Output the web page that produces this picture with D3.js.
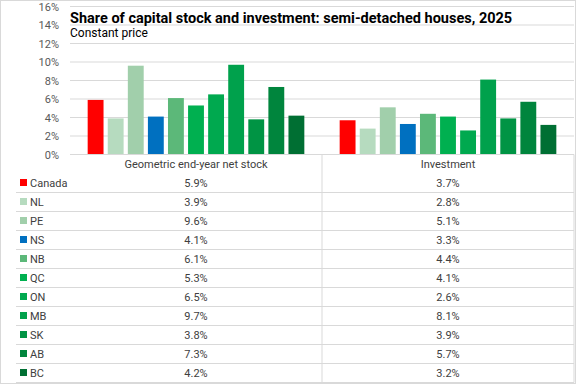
<!DOCTYPE html>
<html>
<head>
<meta charset="utf-8">
<script src="https://cdn.jsdelivr.net/npm/d3@7"></script>
<style>
  body { margin: 0; background: #fff; }
  svg { display: block; font-family: Roboto, "Liberation Sans", sans-serif; }
</style>
</head>
<body>
<svg id="chart" width="576" height="384"></svg>
<script>
'use strict';

const regions = ["Canada", "NL", "PE", "NS", "NB", "QC", "ON", "MB", "SK", "AB", "BC"];
const groups = ["Geometric end-year net stock", "Investment"];
const netStock = [5.9, 3.9, 9.6, 4.1, 6.1, 5.3, 6.5, 9.7, 3.8, 7.3, 4.2];
const investment = [3.7, 2.8, 5.1, 3.3, 4.4, 4.1, 2.6, 8.1, 3.9, 5.7, 3.2];
const yTicks = [0, 2, 4, 6, 8, 10, 12, 14, 16];
const colors = ["#ff0000", "#b6dbbf", "#a1cfab", "#0070c0", "#5cb879", "#00b050",
                "#00a94f", "#00a14c", "#009444", "#00853d", "#006f33"];

const svg = d3.select("#chart");
const W = 576, H = 384;
const plot = { left: 70, right: 574, top: 6.5, bottom: 154.5 };
const rowH = 19;
const tableTop = plot.bottom;

// chart border
svg.append("rect")
    .attr("x", 0.5).attr("y", 0.5)
    .attr("width", W - 1).attr("height", H - 1)
    .attr("fill", "#fff").attr("stroke", "#d9d9d9");

// scales
const x0 = d3.scaleBand().domain(groups).range([plot.left, plot.right]);
const x1 = d3.scaleBand().domain(regions).range([0, x0.bandwidth()])
    .paddingInner(0.21).paddingOuter(0.88);
const y = d3.scaleLinear().domain([0, 16]).range([plot.bottom, plot.top]);
const color = d3.scaleOrdinal().domain(regions).range(colors);

// gridlines
svg.append("g")
    .selectAll("line")
    .data(yTicks.slice(1))
    .enter()
    .append("line")
    .attr("x1", plot.left).attr("x2", plot.right)
    .attr("y1", d => y(d)).attr("y2", d => y(d))
    .attr("stroke", "#d9d9d9").attr("stroke-width", 1);

// y axis labels
const yAxis = d3.axisLeft(y).tickValues(yTicks).tickFormat(d => d + "%").tickSize(0).tickPadding(11);
const yG = svg.append("g")
    .attr("transform", "translate(" + plot.left + ",0)")
    .call(yAxis);
yG.select(".domain").remove();
yG.selectAll("text")
    .attr("fill", "#595959")
    .style("font-family", "Roboto, sans-serif")
    .style("font-size", "11px");

// title
svg.append("text")
    .attr("x", 70).attr("y", 22.5)
    .style("font-size", "14.5px").style("font-weight", "bold")
    .attr("fill", "#000")
    .text("Share of capital stock and investment: semi-detached houses, 2025");
svg.append("text")
    .attr("x", 70).attr("y", 37)
    .style("font-size", "12px")
    .attr("fill", "#000")
    .text("Constant price");

// bars
const series = [netStock, investment];
const gBars = svg.selectAll(".group")
    .data(groups)
    .enter()
    .append("g")
    .attr("class", "group")
    .attr("transform", d => "translate(" + x0(d) + ",0)");

gBars.selectAll("rect")
    .data((g, gi) => regions.map((r, i) => ({ region: r, value: series[gi][i] })))
    .enter()
    .append("rect")
    .attr("x", d => x1(d.region))
    .attr("width", x1.bandwidth())
    .attr("y", d => y(d.value))
    .attr("height", d => y(0) - y(d.value))
    .attr("fill", d => color(d.region));

// axis line
svg.append("line")
    .attr("x1", plot.left).attr("x2", plot.right)
    .attr("y1", plot.bottom).attr("y2", plot.bottom)
    .attr("stroke", "#d9d9d9");

// data table
const tableBottom = tableTop + rowH + regions.length * rowH;
const tbl = svg.append("g");

// vertical separators
[x0.range()[0] + x0.bandwidth(), plot.right].forEach(xv => {
    tbl.append("line")
        .attr("x1", xv).attr("x2", xv)
        .attr("y1", tableTop).attr("y2", tableBottom)
        .attr("stroke", "#d9d9d9");
});

// horizontal row lines
regions.forEach((r, i) => {
    const yy = tableTop + rowH * (i + 2);
    tbl.append("line")
        .attr("x1", 16).attr("x2", plot.right)
        .attr("y1", yy).attr("y2", yy)
        .attr("stroke", "#d9d9d9");
});

// group headers
tbl.selectAll(".hdr")
    .data(groups)
    .enter()
    .append("text")
    .attr("x", d => x0(d) + x0.bandwidth() / 2)
    .attr("y", tableTop + 13)
    .attr("text-anchor", "middle")
    .style("font-size", "11px")
    .attr("fill", "#404040")
    .text(d => d);

// rows
regions.forEach((r, i) => {
    const cy = tableTop + rowH * (i + 1) + rowH / 2;
    tbl.append("rect")
        .attr("x", 20).attr("y", cy - 4)
        .attr("width", 7).attr("height", 7)
        .attr("fill", color(r));
    tbl.append("text")
        .attr("x", 30).attr("y", cy + 4)
        .style("font-size", "11px")
        .attr("fill", "#404040")
        .text(r);
    groups.forEach((g, gi) => {
        tbl.append("text")
            .attr("x", x0(g) + x0.bandwidth() / 2)
            .attr("y", cy + 4)
            .attr("text-anchor", "middle")
            .style("font-size", "11px")
            .attr("fill", "#404040")
            .text(series[gi][i].toFixed(1) + "%");
    });
});
</script>
</body>
</html>
